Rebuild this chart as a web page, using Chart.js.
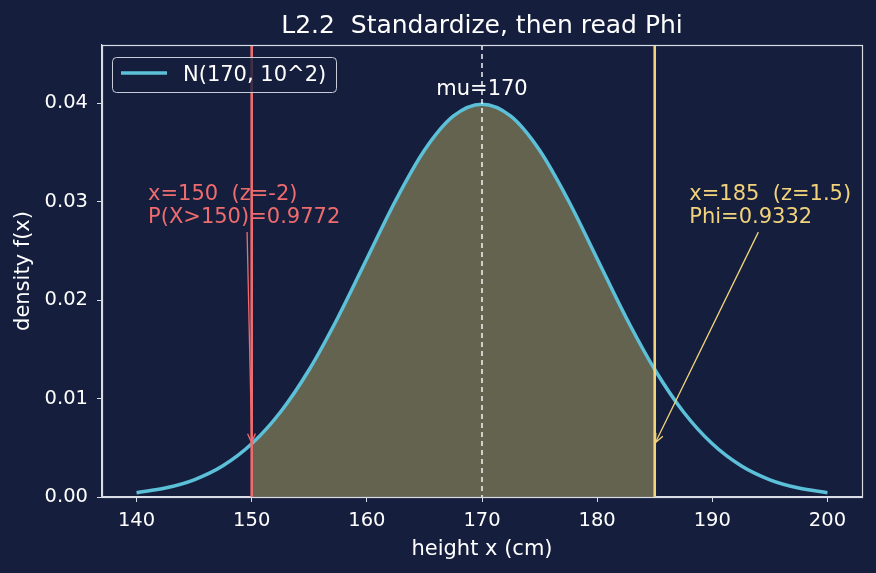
<!DOCTYPE html>
<html>
<head>
<meta charset="utf-8">
<script src="https://cdn.jsdelivr.net/npm/chart.js@4.4.1/dist/chart.umd.min.js"></script>
<style>
  html, body { margin: 0; padding: 0; background: #151f3d; }
  #wrap { width: 876px; height: 573px; }
</style>
</head>
<body>
<div id="wrap"><canvas id="normChart" width="876" height="573"></canvas></div>
<script>
// heights (cm) and density
const heights = [140, 142.5, 145, 147.5, 150, 152.5, 155, 157.5, 160, 162.5, 165, 167.5, 170,
                 172.5, 175, 177.5, 180, 182.5, 185, 187.5, 190, 192.5, 195, 197.5, 200];
const density = [0.00044, 0.00091, 0.00175, 0.00317, 0.00540, 0.00863, 0.01295, 0.01826, 0.02420,
                 0.03011, 0.03521, 0.03867, 0.03989, 0.03867, 0.03521, 0.03011, 0.02420, 0.01826,
                 0.01295, 0.00863, 0.00540, 0.00317, 0.00175, 0.00091, 0.00044];
const xTicks = [140, 150, 160, 170, 180, 190, 200];
const yTicks = [0, 0.01, 0.02, 0.03, 0.04];
const yTickLabels = ['0.00', '0.01', '0.02', '0.03', '0.04'];
const mu = 170;
const lowCut = 150;
const highCut = 185;

const bg = '#151f3d';
const fg = '#ffffff';
const axisCol = '#d8dce6';
const curveCol = '#5bc0d8';
const redCol = '#ee6b6e';
const yelCol = '#f2d27a';
const FONT = '"DejaVu Sans", sans-serif';

const curvePts = heights.map((h, i) => ({x: h, y: density[i]}));
const shadePts = curvePts.filter(p => p.x >= lowCut && p.x <= highCut);

// annotations, vertical lines, title, legend, frame
const decor = {
  id: 'decor',
  beforeDraw(chart) {
    const c = chart.ctx;
    c.save();
    c.fillStyle = bg;
    c.fillRect(0, 0, chart.width, chart.height);
    c.restore();
  },
  afterDatasetsDraw(chart) {
    const c = chart.ctx, xs = chart.scales.x, ys = chart.scales.y, a = chart.chartArea;
    c.save();
    // vertical lines
    function vline(v, col, w, dash) {
      c.beginPath();
      c.setLineDash(dash || []);
      c.strokeStyle = col; c.lineWidth = w;
      const px = xs.getPixelForValue(v);
      c.moveTo(px, a.top); c.lineTo(px, a.bottom); c.stroke();
      c.setLineDash([]);
    }
    vline(mu, fg, 1.4, [5, 4]);
    vline(lowCut, redCol, 2.6);
    vline(highCut, yelCol, 2.6);

    // arrows
    function arrow(x0, y0, x1, y1, col) {
      const px0 = xs.getPixelForValue(x0), py0 = ys.getPixelForValue(y0);
      const px1 = xs.getPixelForValue(x1), py1 = ys.getPixelForValue(y1);
      c.strokeStyle = col; c.lineWidth = 1.3;
      c.beginPath(); c.moveTo(px0, py0); c.lineTo(px1, py1); c.stroke();
      const ang = Math.atan2(py1 - py0, px1 - px0), L = 10, sp = 0.4;
      c.beginPath();
      c.moveTo(px1 - L * Math.cos(ang - sp), py1 - L * Math.sin(ang - sp));
      c.lineTo(px1, py1);
      c.lineTo(px1 - L * Math.cos(ang + sp), py1 - L * Math.sin(ang + sp));
      c.stroke();
    }
    arrow(149.6, 0.0269, 150, 0.0055, redCol);
    arrow(194.0, 0.0269, 185.05, 0.0055, yelCol);

    // texts
    c.font = '21px ' + FONT;
    c.textBaseline = 'alphabetic';
    c.textAlign = 'left';
    c.fillStyle = redCol;
    let tx = xs.getPixelForValue(141);
    c.fillText('x=150  (z=-2)', tx, 200);
    c.fillText('P(X>150)=0.9772', tx, 223);
    c.fillStyle = yelCol;
    tx = xs.getPixelForValue(188);
    c.fillText('x=185  (z=1.5)', tx, 200);
    c.fillText('Phi=0.9332', tx, 223);
    c.fillStyle = fg;
    c.textAlign = 'center';
    c.fillText('mu=170', xs.getPixelForValue(mu), 95);

    // frame
    c.strokeStyle = axisCol; c.lineWidth = 1.2;
    c.strokeRect(Math.round(a.left) + 0.5, Math.round(a.top) + 0.5, Math.round(a.right - a.left), Math.round(a.bottom - a.top));

    // legend
    c.fillStyle = 'rgba(21,31,61,0.8)';
    c.strokeStyle = '#c8ccd8'; c.lineWidth = 1;
    c.beginPath();
    c.roundRect(112.5, 57.5, 224, 35, 4);
    c.fill(); c.stroke();
    c.strokeStyle = curveCol; c.lineWidth = 3.5;
    c.beginPath(); c.moveTo(121, 73); c.lineTo(167, 73); c.stroke();
    c.fillStyle = fg; c.textAlign = 'left'; c.textBaseline = 'alphabetic';
    c.font = '21px ' + FONT;
    c.fillText('N(170, 10^2)', 183, 81);

    // title
    c.textAlign = 'center';
    c.font = '25px ' + FONT;
    c.fillText('L2.2  Standardize, then read Phi', (a.left + a.right) / 2, 33);

    // axis titles
    c.font = '21px ' + FONT;
    c.fillText('height x (cm)', (a.left + a.right) / 2, 555);
    c.save();
    c.translate(29, (a.top + a.bottom) / 2);
    c.rotate(-Math.PI / 2);
    c.fillText('density f(x)', 0, 0);
    c.restore();
    c.restore();
  }
};

const ctx = document.getElementById('normChart').getContext('2d');
new Chart(ctx, {
  type: 'line',
  data: {
    datasets: [
      {
        label: 'shade',
        data: shadePts,
        fill: 'origin',
        backgroundColor: '#646350',
        borderWidth: 0,
        pointRadius: 0,
        cubicInterpolationMode: 'monotone',
        order: 2
      },
      {
        label: 'N(170, 10^2)',
        data: curvePts,
        fill: false,
        borderColor: curveCol,
        borderWidth: 3.5,
        pointRadius: 0,
        cubicInterpolationMode: 'monotone',
        order: 1
      }
    ]
  },
  options: {
    responsive: false,
    animation: false,
    devicePixelRatio: 1,
    layout: { padding: { left: 0, top: 45, right: 14, bottom: 0 } },
    plugins: { legend: { display: false }, title: { display: false }, tooltip: { enabled: false } },
    scales: {
      x: {
        type: 'linear',
        min: 137, max: 203,
        afterBuildTicks: s => { s.ticks = xTicks.map(v => ({value: v})); },
        afterFit: s => { s.height = 76; },
        grid: { drawOnChartArea: false, drawTicks: true, tickLength: 5, color: axisCol },
        border: { display: true, color: axisCol, width: 1.2 },
        ticks: { color: fg, font: { family: FONT, size: 19.5 }, padding: 7, maxRotation: 0,
                 callback: v => String(v) }
      },
      y: {
        type: 'linear',
        min: 0, max: 0.0459,
        afterBuildTicks: s => { s.ticks = yTicks.map(v => ({value: v})); },
        afterFit: s => { s.width = 102; },
        grid: { drawOnChartArea: false, drawTicks: true, tickLength: 5, color: axisCol },
        border: { display: true, color: axisCol, width: 1.2 },
        ticks: { color: fg, font: { family: FONT, size: 19.5 }, padding: 9,
                 callback: v => yTickLabels[yTicks.indexOf(v)] }
      }
    }
  },
  plugins: [decor]
});
</script>
</body>
</html>
